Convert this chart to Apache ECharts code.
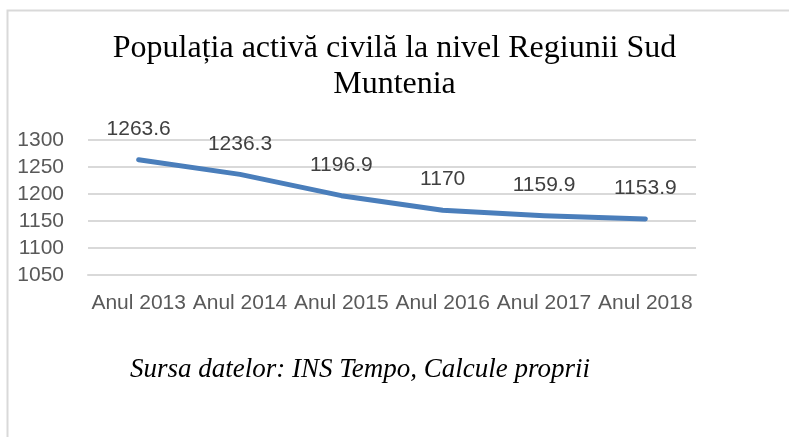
<!DOCTYPE html>
<html>
<head>
<meta charset="utf-8">
<script src="https://cdn.jsdelivr.net/npm/echarts@6/dist/echarts.min.js"></script>
<style>
  html, body { margin: 0; padding: 0; background: #fff; }
  #chart { width: 789px; height: 437px; }
</style>
</head>
<body>
<div id="chart"></div>
<script>
// date
var years = ['Anul 2013', 'Anul 2014', 'Anul 2015', 'Anul 2016', 'Anul 2017', 'Anul 2018'];
var activePop = [1263.6, 1236.3, 1196.9, 1170, 1159.9, 1153.9];
var titleText = 'Populația activă civilă la nivel Regiunii Sud\nMuntenia';
var sourceText = 'Sursa datelor: INS Tempo, Calcule proprii';

var chart = echarts.init(document.getElementById('chart'));
chart.setOption({
    animation: false,
    title: {
        text: titleText,
        left: 'center',
        top: 26,
        textStyle: {
            fontFamily: 'Liberation Serif',
            fontSize: 32,
            fontWeight: 'normal',
            color: '#000',
            lineHeight: 36,
            align: 'center'
        }
    },
    graphic: [
        {
            // chenarul din stanga/sus
            type: 'polyline',
            shape: { points: [[7.5, 437], [7.5, 10.5], [789, 10.5]] },
            style: { stroke: '#d9d9d9', lineWidth: 2, fill: null },
            silent: true
        },
        {
            type: 'text',
            x: 360,
            y: 370,
            style: {
                text: sourceText,
                fontFamily: 'Liberation Serif',
                fontStyle: 'italic',
                fontSize: 27,
                fill: '#000',
                align: 'center',
                verticalAlign: 'middle'
            }
        }
    ],
    grid: {
        left: 88,
        right: 93,
        top: 140,
        bottom: 162
    },
    xAxis: {
        type: 'category',
        data: years,
        boundaryGap: true,
        axisLine: { lineStyle: { color: '#d9d9d9', width: 2 } },
        axisTick: { show: false },
        axisLabel: {
            interval: 0,
            margin: 18,
            fontFamily: 'Liberation Sans',
            fontSize: 21,
            color: '#595959'
        }
    },
    yAxis: {
        type: 'value',
        min: 1050,
        max: 1300,
        interval: 50,
        axisLine: { show: false },
        axisTick: { show: false },
        splitLine: { lineStyle: { color: '#d9d9d9', width: 2 } },
        axisLabel: {
            margin: 24,
            fontFamily: 'Liberation Sans',
            fontSize: 21,
            color: '#595959',
            formatter: function (v) { return String(v); }
        }
    },
    series: [{
        type: 'line',
        data: activePop,
        showSymbol: true,
        symbol: 'circle',
        symbolSize: 0,
        lineStyle: {
            color: '#4a7ebb',
            width: 5,
            cap: 'round',
            join: 'round'
        },
        itemStyle: { color: '#4a7ebb' },
        label: {
            show: true,
            position: 'top',
            distance: 20,
            fontFamily: 'Liberation Sans',
            fontSize: 21,
            color: '#404040',
            formatter: function (p) { return String(p.value); }
        }
    }]
});
</script>
</body>
</html>
